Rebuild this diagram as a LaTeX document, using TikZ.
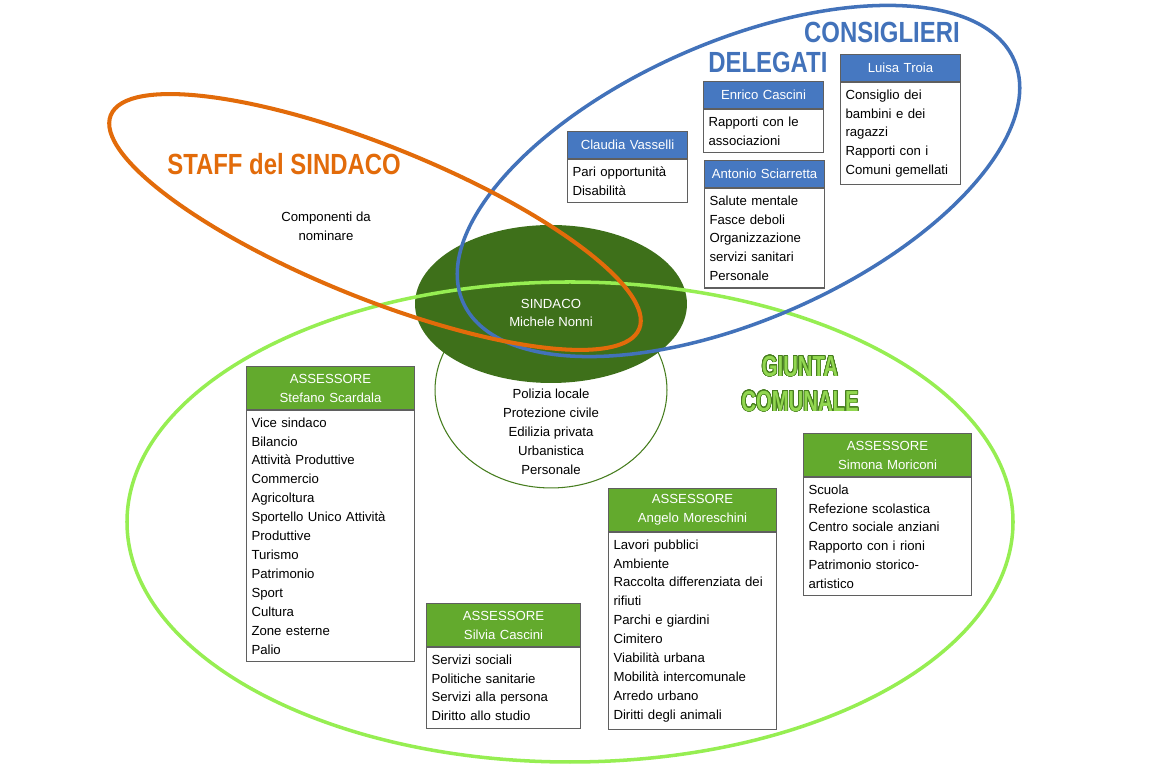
\documentclass[tikz,border=0pt]{standalone}
\usepackage{fontspec}
\setmainfont{Liberation Sans}
\newfontfamily\titlefont{Liberation Sans Bold}[FakeStretch=0.82]
\newfontfamily\giuntafont{Liberation Sans Bold}[FakeStretch=0.7]
\usepackage{contour}
\contourlength{0.4pt}
\contournumber{32}
\usetikzlibrary{positioning,shapes.geometric}

\definecolor{staffO}{RGB}{226,107,10}
\definecolor{consB}{RGB}{66,114,186}
\definecolor{hdrB}{RGB}{70,120,193}
\definecolor{giuntaL}{RGB}{150,238,82}
\definecolor{giuntaT}{RGB}{146,215,80}
\definecolor{giuntaD}{RGB}{70,125,30}
\definecolor{sindG}{RGB}{62,112,26}
\definecolor{hdrG}{RGB}{99,170,45}
\definecolor{boxgray}{RGB}{95,95,95}

\newcommand{\bodyfont}{\fontsize{7.5}{10.77}\selectfont}

\tikzset{
  ring/.style={line width=2pt},
  hdr/.style={draw=boxgray, line width=0.6pt, text=white, align=center,
    inner xsep=0.1cm, inner ysep=0pt, font=\bodyfont, anchor=north west},
  hdrgreen/.style={hdr, fill=hdrG, text width=3.16cm, minimum height=0.86cm},
  hdrblue/.style={hdr, fill=hdrB, text width=2.2cm, minimum height=0.54cm},
  tasks/.style={draw=boxgray, line width=0.6pt, fill=white, align=left,
    inner xsep=0.1cm, inner ysep=4pt, font=\bodyfont, below=0pt of #1},
  tasksgreen/.style={tasks=#1, text width=3.16cm},
  tasksblue/.style={tasks=#1, text width=2.2cm},
  bigtitle/.style={font=\titlefont\fontsize{16.6}{20}\selectfont, inner sep=0pt},
}

\begin{document}
\begin{tikzpicture}[x=0.02cm, y=0.02cm]
  \useasboundingbox (0,0) rectangle (1150,770);

  % --- sindaco: own duties below, dark ellipse on top ---
  \node[ellipse, draw=giuntaD, line width=0.6pt, fill=white,
    minimum width=4.64cm, minimum height=3.92cm] (mayorshape) at (551,380) {};
  \node[ellipse, fill=sindG, minimum width=5.44cm, minimum height=3.16cm] (sindaco) at (551,466) {};
  \node[text=white, align=center, font=\bodyfont] (sindaconame) at (551,457) {SINDACO\\Michele Nonni};
  \node[align=center, font=\bodyfont] (mayorlist) at (551,338)
    {Polizia locale\\Protezione civile\\Edilizia privata\\Urbanistica\\Personale};

  % --- the three groups ---
  \draw[giuntaL, ring] (570,248) ellipse [x radius=443, y radius=240];
  \draw[consB, ring, rotate around={23.7:(738.5,589)}] (738.5,589) ellipse [x radius=301, y radius=139];
  \draw[staffO, ring, line width=2.3pt, rotate around={-22:(375,548)}] (375,548) ellipse [x radius=285, y radius=76];

  % --- titles ---
  \node[bigtitle, text=staffO] (stafftitle) at (284,606) {STAFF del SINDACO};
  \node[align=center, font=\bodyfont] (staffnote) at (326,544) {Componenti da\\nominare};
  \node[bigtitle, text=consB, anchor=base east] (constitle) at (960,727) {CONSIGLIERI};
  \node[bigtitle, text=consB, anchor=base west] (deltitle) at (708,697) {DELEGATI};
  \node[font=\giuntafont\fontsize{16.5}{19.8}\selectfont, text=giuntaT, align=center, inner sep=0pt]
    (giuntatitle) at (800,386) {\contour{giuntaD}{GIUNTA}\\\contour{giuntaD}{COMUNALE}};

  % --- consiglieri delegati ---
  \node[hdrblue] (vasselli) at (567,639) {Claudia Vasselli};
  \node[tasksblue=vasselli] (vasselli-tasks) {Pari opportunità\\Disabilità};

  \node[hdrblue] (ecascini) at (703,689) {Enrico Cascini};
  \node[tasksblue=ecascini] (ecascini-tasks) {Rapporti con le\\associazioni};

  \node[hdrblue] (sciarretta) at (704,610) {Antonio Sciarretta};
  \node[tasksblue=sciarretta] (sciarretta-tasks)
    {Salute mentale\\Fasce deboli\\Organizzazione\\servizi sanitari\\Personale};

  \node[hdrblue] (troia) at (840,716) {Luisa Troia};
  \node[tasksblue=troia] (troia-tasks)
    {Consiglio dei\\bambini e dei\\ragazzi\\Rapporti con i\\Comuni gemellati};

  % --- assessori ---
  \node[hdrgreen] (scardala) at (246,404) {ASSESSORE\\Stefano Scardala};
  \node[tasksgreen=scardala] (scardala-tasks)
    {Vice sindaco\\Bilancio\\Attività Produttive\\Commercio\\Agricoltura\\Sportello Unico Attività\\Produttive\\Turismo\\Patrimonio\\Sport\\Cultura\\Zone esterne\\Palio};

  \node[hdrgreen] (moreschini) at (608,282) {ASSESSORE\\Angelo Moreschini};
  \node[tasksgreen=moreschini] (moreschini-tasks)
    {Lavori pubblici\\Ambiente\\Raccolta differenziata dei\\rifiuti\\Parchi e giardini\\Cimitero\\Viabilità urbana\\Mobilità intercomunale\\Arredo urbano\\Diritti degli animali};

  \node[hdrgreen] (moriconi) at (803,337) {ASSESSORE\\Simona Moriconi};
  \node[tasksgreen=moriconi] (moriconi-tasks)
    {Scuola\\Refezione scolastica\\Centro sociale anziani\\Rapporto con i rioni\\Patrimonio storico-\\artistico};

  \node[hdrgreen, text width=2.88cm] (scascini) at (426,167) {ASSESSORE\\Silvia Cascini};
  \node[tasksgreen=scascini, text width=2.88cm] (scascini-tasks)
    {Servizi sociali\\Politiche sanitarie\\Servizi alla persona\\Diritto allo studio};
\end{tikzpicture}
\end{document}
